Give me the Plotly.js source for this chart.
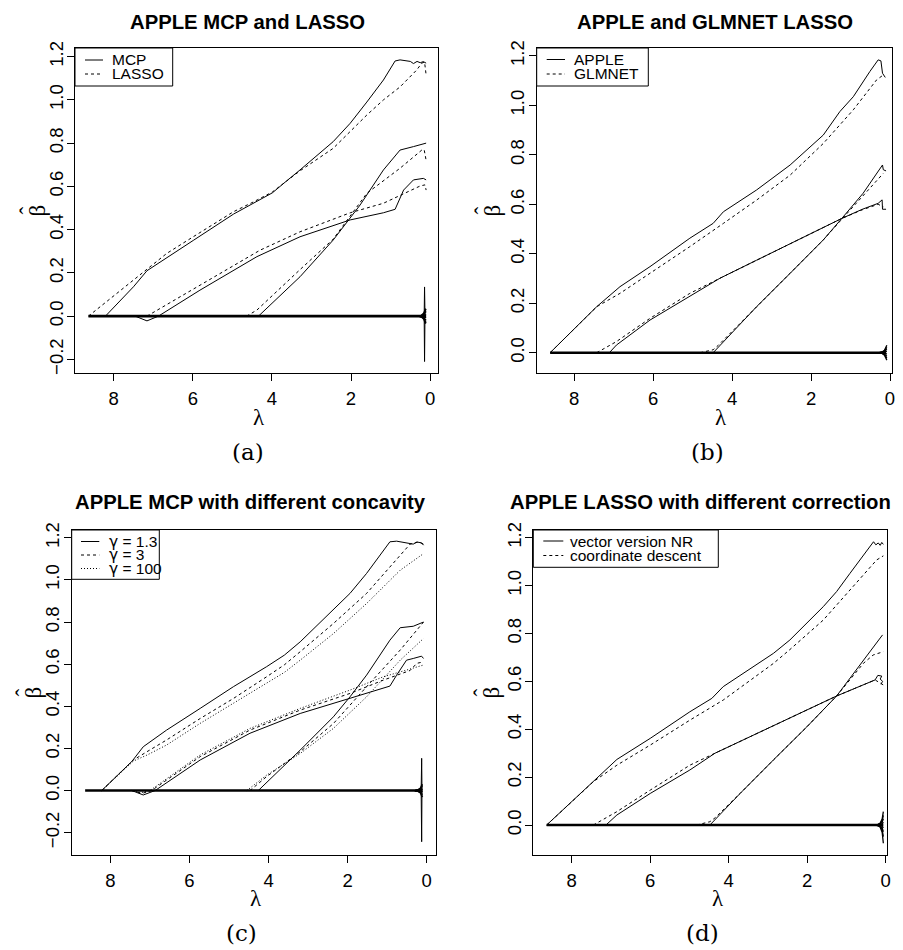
<!DOCTYPE html>
<html>
<head>
<meta charset="utf-8">
<script src="https://cdn.plot.ly/plotly-3.0.1.min.js"></script>
<style>html,body{margin:0;padding:0;background:#fff;}#chart{width:903px;height:950px;}</style>
</head>
<body>
<div id="chart"></div>
<script>
// ---------------- DATA ----------------
const xTicks = [0, 2, 4, 6, 8];
const yTicksAC = [-0.2, 0, 0.2, 0.4, 0.6, 0.8, 1.0, 1.2];
const yTicksBD = [0, 0.2, 0.4, 0.6, 0.8, 1.0, 1.2];

const titles = ['APPLE MCP and LASSO', 'APPLE and GLMNET LASSO',
                'APPLE MCP with different concavity', 'APPLE LASSO with different correction'];
const captions = ['(a)', '(b)', '(c)', '(d)'];
const xLabel = 'λ';
const yLabel = 'β';
const yLabelHat = 'ˆ';
const legA = ['MCP', 'LASSO'];
const legB = ['APPLE', 'GLMNET'];
const legC = ['γ = 1.3', 'γ = 3', 'γ = 100'];
const legD = ['vector version NR', 'coordinate descent'];

// ----- Panel (a): APPLE MCP vs LASSO -----
const aZeroLam = [8.64, 0.10];
const aZero = [0, 0];
const aLamTopMCP = [8.21, 7.50, 7.16, 6.82, 5.99, 4.97, 4.47, 3.99, 3.63, 3.29, 2.45, 2.02, 1.60, 1.18, 0.885, 0.76, 0.50, 0.42, 0.33, 0.25, 0.17, 0.10];
const aTopMCP    = [0, 0.136, 0.21, 0.25, 0.35, 0.472, 0.52, 0.57, 0.625, 0.676, 0.807, 0.892, 0.99, 1.092, 1.18, 1.185, 1.178, 1.168, 1.178, 1.172, 1.177, 1.17];
const aLamTopLasso = [8.64, 7.16, 6.66, 5.99, 4.97, 4.47, 3.99, 3.29, 2.45, 1.60, 1.18, 0.76, 0.34, 0.21, 0.14, 0.10];
const aTopLasso    = [0, 0.22, 0.29, 0.367, 0.483, 0.528, 0.574, 0.672, 0.776, 0.93, 1.0, 1.06, 1.138, 1.17, 1.175, 1.115];
const aLamMidMCP = [7.46, 7.16, 6.87, 5.82, 4.38, 3.29, 2.02, 1.18, 0.885, 0.67, 0.42, 0.17, 0.10];
const aMidMCP    = [0, -0.022, 0, 0.12, 0.275, 0.367, 0.445, 0.478, 0.494, 0.583, 0.63, 0.637, 0.63];
const aLamMidLasso = [7.16, 5.82, 4.30, 3.29, 2.02, 1.18, 0.25, 0.13, 0.10];
const aMidLasso    = [0, 0.143, 0.305, 0.39, 0.478, 0.522, 0.602, 0.607, 0.583];
const aLamThirdMCP = [4.34, 3.29, 2.45, 1.77, 1.18, 0.76, 0.42, 0.17, 0.10];
const aThirdMCP    = [0, 0.182, 0.352, 0.514, 0.676, 0.768, 0.784, 0.796, 0.80];
const aLamThirdLasso = [4.64, 4.38, 3.29, 2.45, 1.60, 0.76, 0.21, 0.15, 0.10];
const aThirdLasso    = [0, 0.028, 0.215, 0.356, 0.568, 0.684, 0.768, 0.77, 0.72];
const aNoiseLam = [0.30, 0.22, 0.16, 0.12, 0.10];
const aNoise = [
  [0, 0.004, 0.014, 0.034, 0.028],
  [0, 0.003, 0.010, 0.025, 0.021],
  [0, 0.002, 0.007, 0.016, 0.014],
  [0, 0.001, 0.003, 0.007, 0.006],
  [0, -0.001, -0.003, -0.007, -0.006],
  [0, -0.002, -0.007, -0.016, -0.014],
  [0, -0.003, -0.010, -0.025, -0.021],
  [0, -0.004, -0.014, -0.034, -0.028]
];
const aSpikeLam = [0.15, 0.14, 0.13];
const aSpikeUp = [0, 0.135, 0.02];
const aSpikeDown = [0, -0.21, -0.02];

// ----- Panel (b): APPLE vs GLMNET LASSO -----
const bZeroLam = [8.61, 0.10];
const bZero = [0, 0];
const bLamTopApple = [8.61, 7.43, 6.84, 6.08, 5.07, 4.48, 4.22, 3.38, 2.53, 1.69, 1.27, 0.93, 0.51, 0.30, 0.23, 0.21, 0.19, 0.12];
const bTopApple    = [0, 0.186, 0.267, 0.348, 0.463, 0.523, 0.57, 0.658, 0.759, 0.88, 0.975, 1.035, 1.137, 1.184, 1.18, 1.157, 1.13, 1.113];
const bLamTopGlm = [8.61, 7.43, 6.84, 6.08, 5.07, 4.22, 3.38, 2.53, 1.69, 0.93, 0.34, 0.17];
const bTopGlm    = [0, 0.186, 0.24, 0.321, 0.429, 0.523, 0.617, 0.718, 0.846, 0.982, 1.103, 1.123];
const bLamMidApple = [7.11, 6.93, 6.08, 5.07, 4.31, 3.38, 2.53, 1.69, 1.22, 0.70, 0.30, 0.20, 0.19, 0.10];
const bMidApple    = [0, 0.031, 0.132, 0.227, 0.301, 0.374, 0.44, 0.506, 0.543, 0.58, 0.604, 0.618, 0.58, 0.58];
const bLamMidGlm = [7.43, 6.93, 6.08, 5.07, 4.31, 3.38, 2.53, 1.69, 1.22, 0.70, 0.30, 0.17];
const bMidGlm    = [0, 0.045, 0.139, 0.24, 0.301, 0.374, 0.44, 0.506, 0.543, 0.578, 0.60, 0.59];
const bLamThirdApple = [4.48, 3.38, 2.53, 1.69, 1.22, 0.68, 0.19, 0.17, 0.10];
const bThirdApple    = [0, 0.186, 0.321, 0.456, 0.543, 0.645, 0.759, 0.74, 0.735];
const bLamThirdGlm = [4.81, 4.48, 4.35, 3.38, 2.53, 1.69, 1.22, 0.68, 0.17];
const bThirdGlm    = [0, 0.012, 0.03, 0.186, 0.321, 0.456, 0.54, 0.635, 0.725];
const bNoiseLam = [0.27, 0.20, 0.14, 0.10, 0.08];
const bNoise = [
  [0, 0.003, 0.010, 0.022, 0.030],
  [0, 0.002, 0.008, 0.016, 0.022],
  [0, 0.001, 0.005, 0.010, 0.014],
  [0, 0.0005, 0.002, 0.004, 0.006],
  [0, -0.0005, -0.002, -0.004, -0.006],
  [0, -0.001, -0.005, -0.010, -0.014],
  [0, -0.002, -0.008, -0.016, -0.022],
  [0, -0.003, -0.010, -0.022, -0.030]
];

// ----- Panel (c): APPLE MCP, different gamma -----
const cZeroLam = [8.64, 0.10];
const cZero = [0, 0];
const cLamTop13 = [8.22, 7.45, 7.17, 6.58, 5.73, 4.89, 4.05, 3.60, 3.20, 2.36, 1.94, 1.52, 0.93, 0.76, 0.34, 0.25, 0.13, 0.08];
const cTop13    = [0, 0.14, 0.208, 0.287, 0.39, 0.493, 0.588, 0.643, 0.706, 0.857, 0.936, 1.031, 1.181, 1.184, 1.17, 1.18, 1.176, 1.165];
const cLamTop3 = [8.22, 7.42, 7.08, 6.58, 5.73, 4.89, 4.05, 3.60, 3.20, 2.36, 1.52, 0.67, 0.42, 0.21, 0.08];
const cTop3    = [0, 0.145, 0.184, 0.24, 0.342, 0.437, 0.54, 0.597, 0.659, 0.793, 0.936, 1.118, 1.17, 1.18, 1.17];
const cLamTop100 = [8.22, 7.42, 7.08, 6.58, 5.73, 4.89, 4.05, 3.60, 3.20, 2.36, 1.52, 0.67, 0.08];
const cTop100    = [0, 0.14, 0.168, 0.216, 0.319, 0.414, 0.509, 0.561, 0.619, 0.745, 0.888, 1.046, 1.125];
const cLamMid13 = [7.46, 7.17, 6.87, 5.73, 4.47, 3.20, 1.94, 0.93, 0.76, 0.51, 0.34, 0.13, 0.08];
const cMid13    = [0, -0.021, 0, 0.145, 0.272, 0.366, 0.438, 0.496, 0.548, 0.619, 0.627, 0.638, 0.627];
const cLamMid3 = [7.46, 7.21, 6.96, 5.73, 4.47, 3.20, 1.94, 1.10, 0.51, 0.42, 0.25, 0.08];
const cMid3    = [0, -0.014, 0, 0.161, 0.287, 0.382, 0.461, 0.524, 0.564, 0.57, 0.604, 0.611];
const cLamMid100 = [7.42, 7.25, 7.00, 5.73, 4.47, 3.20, 1.94, 1.10, 0.51, 0.08];
const cMid100    = [0, -0.011, 0, 0.169, 0.295, 0.39, 0.477, 0.54, 0.572, 0.596];
const cLamThird13 = [4.26, 3.20, 2.36, 1.94, 1.52, 0.93, 0.67, 0.34, 0.08];
const cThird13    = [0, 0.192, 0.35, 0.445, 0.548, 0.714, 0.773, 0.78, 0.80];
const cLamThird3 = [4.47, 4.05, 3.20, 2.36, 1.52, 0.67, 0.08];
const cThird3    = [0, 0.066, 0.184, 0.318, 0.493, 0.667, 0.80];
const cLamThird100 = [4.55, 4.05, 3.20, 2.36, 1.52, 0.67, 0.08];
const cThird100    = [0, 0.073, 0.176, 0.295, 0.445, 0.619, 0.722];
const cNoiseLam = [0.30, 0.22, 0.16, 0.12, 0.10];
const cNoise = [
  [0, 0.004, 0.012, 0.028, 0.024],
  [0, 0.003, 0.009, 0.020, 0.018],
  [0, 0.002, 0.006, 0.013, 0.011],
  [0, 0.001, 0.003, 0.006, 0.005],
  [0, -0.001, -0.003, -0.006, -0.005],
  [0, -0.002, -0.006, -0.013, -0.011],
  [0, -0.003, -0.009, -0.020, -0.018],
  [0, -0.004, -0.012, -0.029, -0.025]
];
const cSpikeLam = [0.14, 0.127, 0.12];
const cSpikeUp = [0, 0.153, 0.02];
const cSpikeDown = [0, -0.243, -0.02];

// ----- Panel (d): APPLE LASSO, NR vs coordinate descent -----
const dZeroLam = [8.64, 0.06];
const dZero = [0, 0];
const dLamTopNR = [8.64, 7.45, 6.85, 6.00, 4.99, 4.43, 4.14, 2.86, 2.44, 1.59, 1.25, 0.91, 0.31, 0.25, 0.19, 0.14, 0.10, 0.06];
const dTopNR    = [0, 0.181, 0.274, 0.362, 0.473, 0.529, 0.578, 0.717, 0.773, 0.912, 0.975, 1.051, 1.183, 1.17, 1.178, 1.168, 1.18, 1.172];
const dLamTopCD = [8.64, 7.45, 6.85, 6.00, 4.99, 4.14, 2.86, 2.44, 1.59, 0.91, 0.23, 0.06];
const dTopCD    = [0, 0.181, 0.25, 0.334, 0.438, 0.522, 0.675, 0.733, 0.856, 0.98, 1.107, 1.124];
const dLamMidNR = [7.13, 6.85, 6.00, 4.99, 4.35, 3.46, 2.61, 1.76, 1.25, 0.27, 0.20, 0.10, 0.14, 0.08, 0.12];
const dMidNR    = [0, 0.042, 0.132, 0.23, 0.30, 0.369, 0.434, 0.50, 0.539, 0.606, 0.625, 0.622, 0.61, 0.60, 0.588];
const dLamMidCD = [7.45, 6.85, 6.00, 4.99, 4.35, 3.46, 2.61, 1.76, 1.25, 0.27, 0.06];
const dMidCD    = [0, 0.056, 0.146, 0.25, 0.30, 0.369, 0.434, 0.50, 0.539, 0.606, 0.585];
const dLamThirdNR = [4.48, 3.71, 2.86, 2.01, 1.25, 0.57, 0.08];
const dThirdNR    = [0, 0.132, 0.272, 0.41, 0.539, 0.689, 0.794];
const dLamThirdCD = [4.82, 4.48, 4.35, 3.71, 2.86, 2.01, 1.25, 0.57, 0.32, 0.06];
const dThirdCD    = [0, 0.014, 0.03, 0.132, 0.272, 0.41, 0.539, 0.675, 0.71, 0.724];
const dNoiseLam = [0.27, 0.20, 0.14, 0.09, 0.06];
const dNoise = [
  [0, 0.002, 0.008, 0.025, 0.056],
  [0, 0.0015, 0.006, 0.018, 0.040],
  [0, 0.001, 0.004, 0.012, 0.026],
  [0, 0.0005, 0.002, 0.005, 0.012],
  [0, -0.0005, -0.002, -0.005, -0.012],
  [0, -0.001, -0.004, -0.012, -0.028],
  [0, -0.0015, -0.006, -0.020, -0.048],
  [0, -0.002, -0.009, -0.030, -0.076]
];

// ---------------- STYLE / BUILD ----------------
const W = 903, H = 950;
const PX = v => v / W;
const PY = v => 1 - v / H;
const SOLID = 'solid', DASH = '3px,3px', DOT = '1px,2px';

const traces = [];
function line(x, y, k, dash, width) {
  traces.push({
    type: 'scatter', mode: 'lines', x: x, y: y,
    xaxis: k === 1 ? 'x' : 'x' + k, yaxis: k === 1 ? 'y' : 'y' + k,
    line: { color: '#000', width: width || 1, dash: dash || SOLID },
    showlegend: false, hoverinfo: 'skip'
  });
}
function noise(lam, rows, k) { rows.forEach(r => line(lam, r, k, SOLID, 1.3)); }

// (a)
line(aZeroLam, aZero, 1, SOLID, 2.6);
noise(aNoiseLam, aNoise, 1);
line(aSpikeLam, aSpikeUp, 1); line(aSpikeLam, aSpikeDown, 1);
line(aLamTopMCP, aTopMCP, 1, SOLID); line(aLamTopLasso, aTopLasso, 1, DASH);
line(aLamMidMCP, aMidMCP, 1, SOLID); line(aLamMidLasso, aMidLasso, 1, DASH);
line(aLamThirdMCP, aThirdMCP, 1, SOLID); line(aLamThirdLasso, aThirdLasso, 1, DASH);
// (b)
line(bZeroLam, bZero, 2, SOLID, 2.6);
noise(bNoiseLam, bNoise, 2);
line(bLamTopApple, bTopApple, 2, SOLID); line(bLamTopGlm, bTopGlm, 2, DASH);
line(bLamMidApple, bMidApple, 2, SOLID); line(bLamMidGlm, bMidGlm, 2, DASH);
line(bLamThirdApple, bThirdApple, 2, SOLID); line(bLamThirdGlm, bThirdGlm, 2, DASH);
// (c)
line(cZeroLam, cZero, 3, SOLID, 2.6);
noise(cNoiseLam, cNoise, 3);
line(cSpikeLam, cSpikeUp, 3); line(cSpikeLam, cSpikeDown, 3);
line(cLamTop100, cTop100, 3, DOT); line(cLamTop3, cTop3, 3, DASH); line(cLamTop13, cTop13, 3, SOLID);
line(cLamMid100, cMid100, 3, DOT); line(cLamMid3, cMid3, 3, DASH); line(cLamMid13, cMid13, 3, SOLID);
line(cLamThird100, cThird100, 3, DOT); line(cLamThird3, cThird3, 3, DASH); line(cLamThird13, cThird13, 3, SOLID);
// (d)
line(dZeroLam, dZero, 4, SOLID, 2.6);
noise(dNoiseLam, dNoise, 4);
line(dLamTopNR, dTopNR, 4, SOLID); line(dLamTopCD, dTopCD, 4, DASH);
line(dLamMidNR, dMidNR, 4, SOLID); line(dLamMidCD, dMidCD, 4, DASH);
line(dLamThirdNR, dThirdNR, 4, SOLID); line(dLamThirdCD, dThirdCD, 4, DASH);

// panel geometry (pixels)
const panels = [
  { l: 75,    r: 438,   t: 48,  b: 373, xr: [8.98, -0.20],  yr: [-0.263, 1.240], yt: yTicksAC,
    title: [247.5, 21.5], lam: [259, 417], beta: 37, cap: [248, 452] },
  { l: 536.7, r: 891.7, t: 48,  b: 373, xr: [8.95, -0.043], yr: [-0.082, 1.232], yt: yTicksBD,
    title: [715.3, 21.5], lam: [721, 417], beta: 492, cap: [707.5, 452] },
  { l: 71.7,  r: 435.7, t: 530, b: 855, xr: [8.98, -0.228], yr: [-0.306, 1.237], yt: yTicksAC,
    title: [250.8, 502], lam: [256, 898], beta: 33, cap: [241, 933] },
  { l: 533.3, r: 887.3, t: 530, b: 855, xr: [8.98, -0.041], yr: [-0.125, 1.232], yt: yTicksBD,
    title: [700, 502], lam: [718, 898], beta: 491, cap: [702.5, 933] }
];

const layout = {
  width: W, height: H, margin: { l: 0, r: 0, t: 0, b: 0 },
  paper_bgcolor: '#fff', plot_bgcolor: '#fff', showlegend: false,
  shapes: [], annotations: []
};
const SANS = 'Liberation Sans, Arial, sans-serif';
const SERIF = 'Liberation Serif, Times New Roman, serif';
const tickFont = { family: SANS, size: 18.5, color: '#000' };
panels.forEach((p, i) => {
  const k = i + 1, sx = k === 1 ? '' : String(k);
  layout['xaxis' + sx] = {
    domain: [PX(p.l), PX(p.r)], range: p.xr, anchor: 'y' + sx,
    showgrid: false, zeroline: false, showline: true, mirror: true, linecolor: '#000', linewidth: 1,
    ticks: 'outside', ticklen: 7, tickwidth: 1, tickcolor: '#000', tickvals: xTicks,
    tickfont: tickFont, ticklabelstandoff: 2
  };
  layout['yaxis' + sx] = {
    domain: [PY(p.b), PY(p.t)], range: p.yr, anchor: 'x' + sx,
    showgrid: false, zeroline: false, showline: true, mirror: true, linecolor: '#000', linewidth: 1,
    ticks: 'outside', ticklen: 7, tickwidth: 1, tickcolor: '#000', tickvals: p.yt, tickformat: '.1f',
    tickangle: -90, tickfont: tickFont, ticklabelstandoff: -3
  };
  layout.annotations.push({
    xref: 'paper', yref: 'paper', x: PX(p.title[0]), y: PY(p.title[1]), xanchor: 'center', yanchor: 'middle',
    text: '<b>' + titles[i] + '</b>', showarrow: false,
    font: { family: SANS, size: 20.3, color: '#000' }
  });
  layout.annotations.push({
    xref: 'paper', yref: 'paper', x: PX(p.lam[0]), y: PY(p.lam[1]), xanchor: 'center', yanchor: 'middle',
    text: xLabel, showarrow: false,
    font: { family: SERIF, size: 23, color: '#000' }
  });
  const yc = PY((p.t + p.b) / 2);
  layout.annotations.push({
    xref: 'paper', yref: 'paper', x: PX(p.beta), y: yc, xanchor: 'center', yanchor: 'middle',
    text: yLabel, showarrow: false, textangle: -90,
    font: { family: SERIF, size: 23, color: '#000' }
  });
  layout.annotations.push({
    xref: 'paper', yref: 'paper', x: PX(p.beta - 9), y: yc, xanchor: 'center', yanchor: 'middle',
    text: yLabelHat, showarrow: false, textangle: -90,
    font: { family: SERIF, size: 23, color: '#000' }
  });
  layout.annotations.push({
    xref: 'paper', yref: 'paper', x: PX(p.cap[0]), y: PY(p.cap[1]), xanchor: 'center', yanchor: 'middle',
    text: captions[i], showarrow: false,
    font: { family: 'DejaVu Serif, serif', size: 23, color: '#000' }
  });
});

// legends (R-style boxes)
const legends = [
  { labels: legA, dashes: [SOLID, DASH], box: [75, 48, 172.7, 86], rows: [60, 74], s: [85, 103], tx: 111 },
  { labels: legB, dashes: [SOLID, DASH], box: [536.7, 48, 648.3, 86], rows: [59.5, 74], s: [546.7, 565], tx: 573 },
  { labels: legC, dashes: [SOLID, DASH, DOT], box: [71.7, 530, 159.3, 579.3], rows: [541.5, 555, 568.5], s: [81, 99.3], tx: 108 },
  { labels: legD, dashes: [SOLID, DASH], box: [533.3, 530, 718.3, 567.3], rows: [541, 555.5], s: [543.3, 563.3], tx: 569 }
];
legends.forEach(L => {
  layout.shapes.push({
    type: 'rect', xref: 'paper', yref: 'paper', layer: 'above',
    x0: PX(L.box[0]), y0: PY(L.box[1]), x1: PX(L.box[2]), y1: PY(L.box[3]),
    line: { color: '#000', width: 1 }, fillcolor: '#fff'
  });
  L.labels.forEach((lab, j) => {
    layout.shapes.push({
      type: 'line', xref: 'paper', yref: 'paper', layer: 'above',
      x0: PX(L.s[0]), x1: PX(L.s[1]), y0: PY(L.rows[j]), y1: PY(L.rows[j]),
      line: { color: '#000', width: 1, dash: L.dashes[j] }
    });
    const txt = lab.replace('γ', '<span style="font-family:DejaVu Sans, sans-serif">γ</span>');
    layout.annotations.push({
      xref: 'paper', yref: 'paper', x: PX(L.tx), y: PY(L.rows[j]), xanchor: 'left', yanchor: 'middle',
      text: txt, showarrow: false, borderpad: 0,
      font: { family: SANS, size: 15.5, color: '#000' }
    });
  });
});

Plotly.newPlot('chart', traces, layout, { staticPlot: true, displayModeBar: false });
</script>
</body>
</html>
